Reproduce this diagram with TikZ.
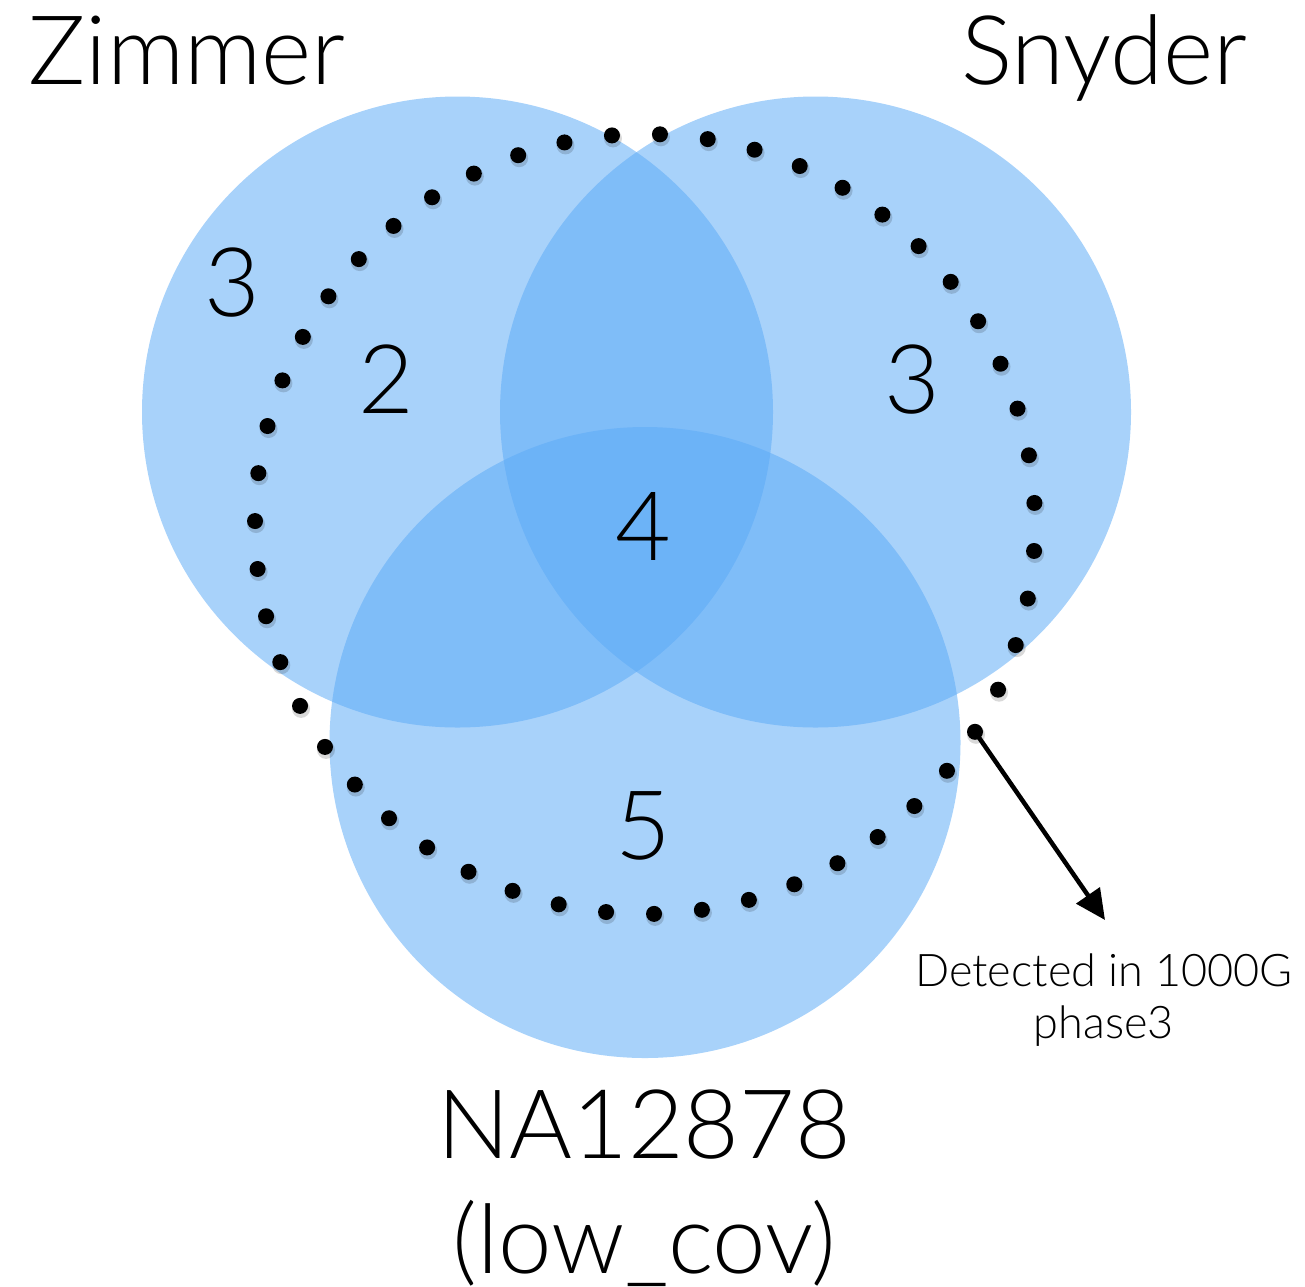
\documentclass[tikz,border=0pt]{standalone}
\usepackage{fontspec}
\setmainfont{Lato Light}
\usetikzlibrary{arrows.meta}
\definecolor{venn}{RGB}{91,170,246}
\begin{document}
\begin{tikzpicture}[x=1pt,y=-1pt,
  setcircle/.style={circle, fill=venn, fill opacity=0.53, minimum size=631pt, inner sep=0pt, draw=none},
  bigtext/.style={font=\fontsize{96}{100}\selectfont, anchor=base, inner sep=0pt},
  smalltext/.style={font=\fontsize{45}{50}\selectfont, anchor=base, inner sep=0pt},
  blackdot/.style={circle, fill=black, minimum size=16pt, inner sep=0pt},
  dotshadow/.style={fill=black, fill opacity=0.15},
  arrowline/.style={line width=4.5pt, -{Triangle[length=30pt,width=28pt]}}
]
\useasboundingbox (0,0) rectangle (1305,1286);
% sets
\node[setcircle] (zimmer) at (457.5,412) {};
\node[setcircle] (snyder) at (815.5,412) {};
\node[setcircle] (na) at (645,742.5) {};
% dotted ring
\foreach \i in {0,...,50} {
  \pgfmathsetmacro\ang{87.8-\i*7.0588}
  \pgfmathsetmacro\px{645+390*cos(\ang)}
  \pgfmathsetmacro\py{524-390*sin(\ang)}
  \fill[dotshadow] (\px+1,\py+3) circle[radius=9pt];
  \node[blackdot] (d\i) at (\px,\py) {};
}
% arrow
\coordinate (tip) at (1105,920);
\draw[arrowline] (d17.center) -- (tip);
% titles
\node[bigtext] (tz) at (187,84) {Zimmer};
\node[bigtext] (ts) at (1104,84) {Snyder};
\node[bigtext] (tn1) at (644,1158) {NA12878};
\node[bigtext] (tn2) at (644,1273) {(low\_cov)};
% counts
\node[bigtext] (n1) at (232,316) {3};
\node[bigtext] (n2) at (386,413) {2};
\node[bigtext] (n3) at (912,413) {3};
\node[bigtext] (n4) at (643,560) {4};
\node[bigtext] (n5) at (643,859) {5};
% annotation
\node[smalltext] (l1) at (1104,986) {Detected in 1000G};
\node[smalltext] (l2) at (1104,1038) {phase3};
\end{tikzpicture}
\end{document}
